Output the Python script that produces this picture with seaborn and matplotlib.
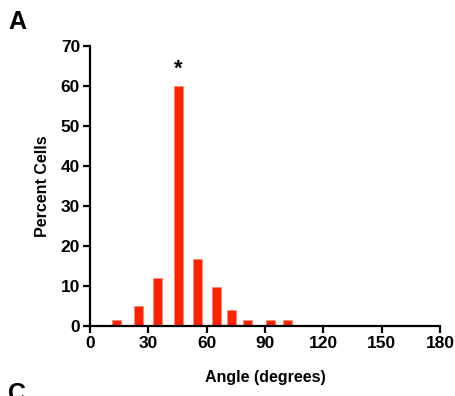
import numpy as np
import pandas as pd
import matplotlib
matplotlib.use("Agg")
import matplotlib.pyplot as plt
import seaborn as sns

# datos
angulos = [13.5, 25, 35, 45.5, 55.5, 65, 73, 81, 93, 101.5]
porcentaje = [1.4, 5.1, 11.9, 60, 16.7, 9.7, 4.0, 1.4, 1.4, 1.4]
xticks = [0, 30, 60, 90, 120, 150, 180]
yticks = [0, 10, 20, 30, 40, 50, 60, 70]

sns.set_style("ticks", {'axes.edgecolor': 'black', 'text.color': 'black',
                        'xtick.color': 'black', 'ytick.color': 'black',
                        'axes.labelcolor': 'black'})
plt.rcParams['font.family'] = ['Liberation Sans', 'DejaVu Sans']
plt.rcParams['font.weight'] = 'bold'

df = pd.DataFrame({'angulo': angulos, 'pct': porcentaje})

fig = plt.figure(figsize=(4.56, 3.96), dpi=100)
ax = fig.add_axes([0.197, 0.177, 0.768, 0.707])

sns.barplot(data=df, x='angulo', y='pct', native_scale=True, width=0.575,
            color='#ff2200', edgecolor='#ff8a70', linewidth=0.6, ax=ax,
            saturation=1)

ax.set_xlim(0, 180)
ax.set_ylim(0, 70)
ax.set_xticks(xticks)
ax.set_yticks(yticks)
ax.set_xticklabels([str(t) for t in xticks], fontsize=12.5, fontweight='bold')
ax.set_yticklabels([str(t) for t in yticks], fontsize=12.5, fontweight='bold')
ax.set_xlabel('Angle (degrees)', fontsize=11.5, fontweight='bold', labelpad=14)
ax.set_ylabel('Percent Cells', fontsize=11.5, fontweight='bold', labelpad=8)
sns.despine(ax=ax)
for s in ['left', 'bottom']:
    ax.spines[s].set_linewidth(1.6)
ax.tick_params(width=1.6, length=5, pad=2)

ax.text(45.5, 61.5, '*', ha='center', va='bottom', fontsize=16, fontweight='bold')

fig.text(0.018, 0.975, 'A', fontsize=18, fontweight='bold', va='top', ha='left')
fig.text(0.018, -0.025, 'C', fontsize=18, fontweight='bold', va='bottom', ha='left')

fig.savefig('out.png', dpi=100)
